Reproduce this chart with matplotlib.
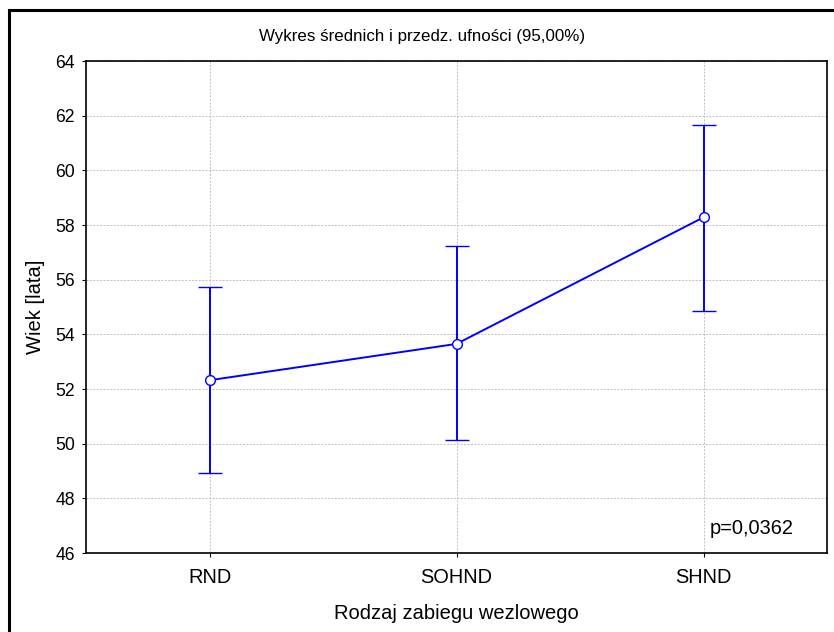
import matplotlib
matplotlib.use("Agg")
import matplotlib.pyplot as plt
from matplotlib.lines import Line2D

plt.rcParams['font.family'] = ['Liberation Sans', 'DejaVu Sans']

categories = ["RND", "SOHND", "SHND"]
means = [52.32, 53.65, 58.28]
ci_lower = [48.92, 50.12, 54.87]
ci_upper = [55.74, 57.22, 61.65]
yticks = [46, 48, 50, 52, 54, 56, 58, 60, 62, 64]
title = "Wykres średnich i przedz. ufności (95,00%)"
xlabel = "Rodzaj zabiegu wezlowego"
ylabel = "Wiek [lata]"
ptext = "p=0,0362"

W, H = 834, 632
fig = plt.figure(figsize=(W / 100, H / 100), dpi=100)
ax = fig.add_axes([86 / W, (H - 553) / H, 741 / W, 492 / H])

x = list(range(len(categories)))
yerr_low = [m - l for m, l in zip(means, ci_lower)]
yerr_up = [u - m for m, u in zip(means, ci_upper)]
blue = "#0000ff"
ax.errorbar(x, means, yerr=[yerr_low, yerr_up], color=blue, ecolor=blue,
            elinewidth=1.4, capsize=8.6, capthick=1.4, linewidth=1.4,
            marker="o", markersize=7, markerfacecolor="white",
            markeredgecolor=blue, markeredgewidth=1.0, zorder=3)

ax.set_xlim(-0.5, len(categories) - 0.5)
ax.set_ylim(46, 64)
ax.set_yticks(yticks)
ax.set_xticks(x)
ax.set_xticklabels(categories)
ax.tick_params(axis="y", labelsize=12.7, length=3, width=0.8, direction="out", pad=5)
ax.tick_params(axis="x", labelsize=14.4, length=3, width=0.8, direction="out", pad=8)
ax.grid(True, color="#c0c0c0", linestyle=(0, (2, 1.5)), linewidth=0.7)
ax.set_axisbelow(True)
for s in ax.spines.values():
    s.set_linewidth(1.2)
    s.set_color("black")

ax.set_xlabel(xlabel, fontsize=14.5, labelpad=12)
ax.set_ylabel(ylabel, fontsize=14.5, labelpad=7)
ax.text(0.9555, 0.03, ptext, transform=ax.transAxes, ha="right", va="bottom", fontsize=14.4)
fig.text(422 / W, 1 - 36 / H, title, ha="center", va="center", fontsize=12.2)

# outer frame (top and left visible)
fig.add_artist(Line2D([8.5 / W, 8.5 / W], [0, 1 - 10 / H], transform=fig.transFigure,
                      color="black", linewidth=2.2))
fig.add_artist(Line2D([8.5 / W, 1], [1 - 10 / H, 1 - 10 / H], transform=fig.transFigure,
                      color="black", linewidth=2.2))

fig.savefig("out.png", dpi=100)
